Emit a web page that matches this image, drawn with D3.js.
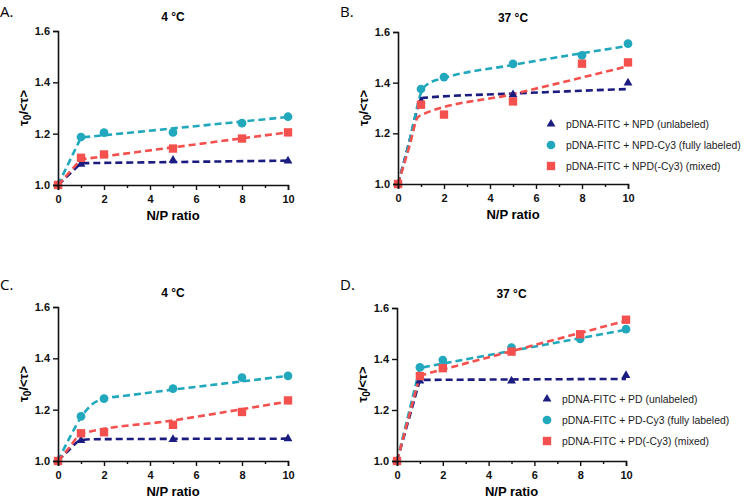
<!DOCTYPE html>
<html>
  <head>
    <style>
    body { margin: 0; background: #fff; }
    svg { display: block; }
    text { font-family: "Liberation Sans", Arial, sans-serif; }
    </style>
    <script src="https://d3js.org/d3.v7.min.js"></script>
  </head>
  <body>
    <script type="text/javascript">
    // N/P ratios measured
    var xUnlabeled = [0, 1, 5, 10];
    var xLabeled = [0, 1, 2, 5, 8, 10];

    // A. 4 °C, NPD
    var aUnlabeled = [1.0, 1.081, 1.097, 1.094];
    var aFully = [1.0, 1.187, 1.204, 1.205, 1.241, 1.266];
    var aMixed = [1.0, 1.106, 1.119, 1.142, 1.181, 1.205];
    // B. 37 °C, NPD
    var bUnlabeled = [1.0, 1.326, 1.353, 1.399];
    var bFully = [1.0, 1.375, 1.422, 1.474, 1.508, 1.554];
    var bMixed = [1.0, 1.313, 1.274, 1.326, 1.475, 1.480];
    // C. 4 °C, PD
    var cUnlabeled = [1.0, 1.080, 1.084, 1.087];
    var cFully = [1.0, 1.174, 1.243, 1.282, 1.325, 1.332];
    var cMixed = [1.0, 1.108, 1.112, 1.141, 1.191, 1.236];
    // D. 37 °C, PD
    var dUnlabeled = [1.0, 1.314, 1.314, 1.336];
    var dFully = [1.0, 1.367, 1.396, 1.445, 1.479, 1.517];
    var dMixed = [1.0, 1.333, 1.364, 1.429, 1.497, 1.554];

    // fitted curves (dashed) as [x, y]
    var aFitUnlabeled = [[0, 1.0], [1, 1.085], [10, 1.095]];
    var aFitFully = [[0, 1.0], [1, 1.185], [10, 1.265]];
    var aFitMixed = [[0, 1.0], [1, 1.10], [10, 1.205]];
    var bFitUnlabeled = [[0, 1.0], [0.5, 1.17], [0.9, 1.31], [1.1, 1.34], [5, 1.357], [10, 1.375]];
    var bFitFully = [[0, 1.0], [0.5, 1.17], [0.85, 1.31], [1.0, 1.36], [1.3, 1.395], [2, 1.418], [5, 1.47], [10, 1.545]];
    var bFitMixed = [[0, 1.0], [0.5, 1.15], [0.85, 1.262], [1, 1.272], [5, 1.355], [10, 1.465]];
    var cFitUnlabeled = [[0, 1.0], [0.5, 1.045], [1, 1.081], [1.5, 1.085], [10, 1.087]];
    var cFitFully = [[0, 1.0], [0.5, 1.09], [1, 1.17], [1.5, 1.222], [2, 1.243], [3, 1.255], [5, 1.278], [8, 1.31], [10, 1.332]];
    var cFitMixed = [[0, 1.0], [0.5, 1.053], [1, 1.105], [5, 1.158], [10, 1.232]];
    var dFitUnlabeled = [[0, 1.0], [1, 1.318], [10, 1.322]];
    var dFitFully = [[0, 1.0], [1, 1.365], [10, 1.515]];
    var dFitMixed = [[0, 1.0], [1, 1.335], [10, 1.55]];

    var xTicks = [0, 1, 2, 3, 4, 5, 6, 7, 8, 9, 10];
    var yTicks = [1.0, 1.2, 1.4, 1.6];

    var colors = {unlabeled: "#1c1c80", fully: "#22a8bd", mixed: "#f4504e"};
    var symbols = {unlabeled: d3.symbolTriangle, fully: d3.symbolCircle, mixed: d3.symbolSquare};
    var symSize = {unlabeled: 34, fully: 60, mixed: 70};

    var panels = [
      {letter: "A.", title: "4 \u00B0C", x0: 58, x1: 288, y0: 185, y1: 31, lx: 0, ly: 17, smooth: false,
       series: [["unlabeled", xUnlabeled, aUnlabeled, aFitUnlabeled], ["fully", xLabeled, aFully, aFitFully], ["mixed", xLabeled, aMixed, aFitMixed]]},
      {letter: "B.", title: "37 \u00B0C", x0: 398, x1: 628, y0: 184, y1: 32, lx: 340, ly: 17, smooth: true,
       series: [["unlabeled", xUnlabeled, bUnlabeled, bFitUnlabeled], ["fully", xLabeled, bFully, bFitFully], ["mixed", xLabeled, bMixed, bFitMixed]],
       legend: {x: 551, y: 124, names: ["pDNA-FITC + NPD (unlabeled)", "pDNA-FITC + NPD-Cy3 (fully labeled)", "pDNA-FITC + NPD(-Cy3) (mixed)"]}},
      {letter: "C.", title: "4 \u00B0C", x0: 58, x1: 288, y0: 461, y1: 307, lx: 0, ly: 290, smooth: true,
       series: [["unlabeled", xUnlabeled, cUnlabeled, cFitUnlabeled], ["fully", xLabeled, cFully, cFitFully], ["mixed", xLabeled, cMixed, cFitMixed]]},
      {letter: "D.", title: "37 \u00B0C", x0: 397, x1: 626, y0: 461, y1: 308, lx: 340, ly: 290, smooth: false,
       series: [["unlabeled", xUnlabeled, dUnlabeled, dFitUnlabeled], ["fully", xLabeled, dFully, dFitFully], ["mixed", xLabeled, dMixed, dFitMixed]],
       legend: {x: 547, y: 399, names: ["pDNA-FITC + PD (unlabeled)", "pDNA-FITC + PD-Cy3 (fully labeled)", "pDNA-FITC + PD(-Cy3) (mixed)"]}}
    ];

    var svg = d3.select("body").append("svg")
      .attr("width", 745)
      .attr("height", 499);

    panels.forEach(function(p) {
      var g = svg.append("g");
      var xScale = d3.scaleLinear().domain([0, 10]).range([p.x0, p.x1]);
      var yScale = d3.scaleLinear().domain([1.0, 1.6]).range([p.y0, p.y1]);
      var cx = (p.x0 + p.x1) / 2;

      // panel letter and title
      g.append("text").attr("x", p.lx).attr("y", p.ly)
        .style("font-family", "'Open Sans', sans-serif").style("font-size", "15px")
        .text(p.letter);
      g.append("text").attr("x", cx).attr("y", p.y1 - 10)
        .attr("text-anchor", "middle").style("font-size", "12px").style("font-weight", "bold")
        .text(p.title);

      // fitted lines
      var line = d3.line()
        .x(function(d) { return xScale(d[0]); })
        .y(function(d) { return yScale(d[1]); })
        .curve(p.smooth ? d3.curveMonotoneX : d3.curveLinear);
      p.series.forEach(function(s) {
        g.append("path").datum(s[3])
          .attr("d", line)
          .attr("fill", "none")
          .attr("stroke", colors[s[0]])
          .attr("stroke-width", 2.6)
          .attr("stroke-dasharray", "7,4");
      });

      // points
      p.series.forEach(function(s) {
        g.selectAll(null).data(s[2]).enter().append("path")
          .attr("d", d3.symbol().type(symbols[s[0]]).size(symSize[s[0]]))
          .attr("transform", function(d, i) { return "translate(" + xScale(s[1][i]) + "," + yScale(d) + ")"; })
          .attr("fill", colors[s[0]]);
      });

      // axes
      var xAxis = g.append("g")
        .attr("transform", "translate(0," + p.y0 + ")")
        .call(d3.axisBottom(xScale).tickValues(xTicks).tickSize(5).tickPadding(5)
          .tickFormat(function(d) { return d % 2 === 0 ? d : ""; }));
      xAxis.selectAll(".tick line").attr("y2", function(d) { return d % 2 === 0 ? 5 : 3; });
      var yAxis = g.append("g")
        .attr("transform", "translate(" + p.x0 + ",0)")
        .call(d3.axisLeft(yScale).tickValues(yTicks).tickSize(5).tickPadding(3).tickFormat(d3.format(".1f")));
      [xAxis, yAxis].forEach(function(a) {
        a.select(".domain").attr("stroke-width", 1.6).attr("stroke", "#111");
        a.selectAll(".tick line").attr("stroke-width", 1.4).attr("stroke", "#111");
        a.selectAll("text").style("font-size", "11px").style("font-weight", "bold")
          .style("font-family", "'Liberation Sans', Arial, sans-serif").attr("fill", "#111");
      });

      // axis titles
      g.append("text").attr("x", cx).attr("y", p.y0 + 35)
        .attr("text-anchor", "middle").style("font-size", "13px").style("font-weight", "bold")
        .text("N/P ratio");
      var yl = g.append("text")
        .attr("transform", "translate(" + (p.x0 - 30) + "," + ((p.y0 + p.y1) / 2) + ") rotate(-90)")
        .attr("text-anchor", "middle").style("font-size", "13px").style("font-weight", "bold");
      yl.append("tspan").text("\u03C4");
      yl.append("tspan").attr("dy", 3).style("font-size", "10px").text("0");
      yl.append("tspan").attr("dy", -3).text("/<\u03C4>");

      // legend
      if (p.legend) {
        p.series.forEach(function(s, i) {
          var ly = p.legend.y + i * 21;
          g.append("path")
            .attr("d", d3.symbol().type(symbols[s[0]]).size(symSize[s[0]]))
            .attr("transform", "translate(" + p.legend.x + "," + ly + ")")
            .attr("fill", colors[s[0]]);
          g.append("text").attr("x", p.legend.x + 15).attr("y", ly + 4)
            .style("font-size", "10.4px").attr("fill", "#222")
            .text(p.legend.names[i]);
        });
      }
    });
    </script>
  </body>
</html>
